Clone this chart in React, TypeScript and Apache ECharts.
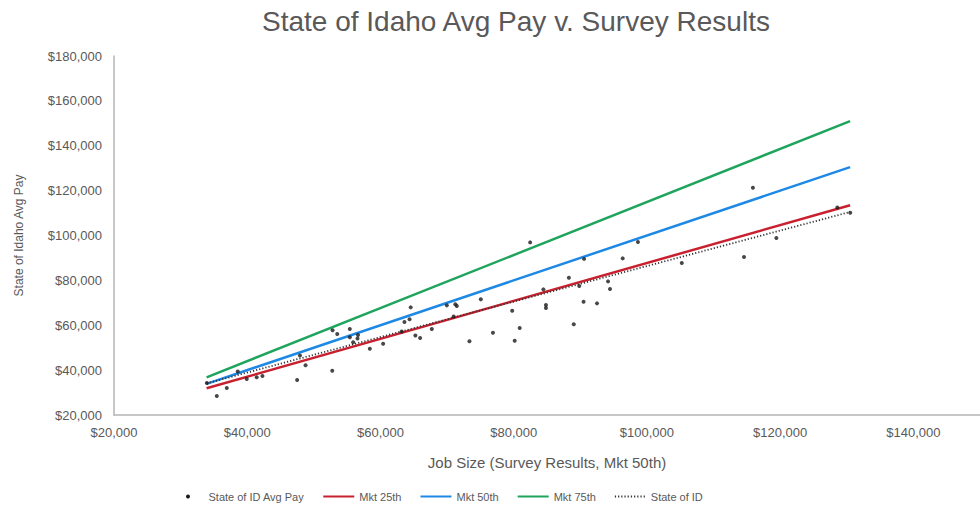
import React, { useEffect, useRef } from "react";
import * as echarts from "echarts";

const titleText = "State of Idaho Avg Pay v. Survey Results";
const xAxisName = "Job Size (Survey Results, Mkt 50th)";
const yAxisName = "State of Idaho Avg Pay";

// Scatter: [Job size (Mkt 50th), State of ID avg pay]
const avgPayPoints: [number, number][] = [
  [33930, 34250], [35430, 28460], [36930, 32030], [38580, 39380], [39930, 36040],
  [41420, 36790], [42280, 37370], [47490, 35590], [47910, 46500], [48760, 42140],
  [52760, 39730], [52810, 57730], [53510, 56080], [55400, 58310], [55400, 54610],
  [55910, 52380], [56550, 54080], [56630, 55630], [58400, 49490], [60400, 51710],
  [63190, 57190], [63600, 61430], [64370, 62630], [64540, 67970], [65240, 55410],
  [65950, 54300], [67710, 58310], [69960, 68860], [71240, 69350], [71460, 68550],
  [70980, 63870], [73360, 52870], [75060, 71540], [76880, 56660], [79770, 66460],
  [80150, 53100], [80900, 58750], [82470, 96930], [84460, 75990], [84840, 69000],
  [84840, 67660], [88280, 81160], [89020, 60400], [89840, 77460], [90490, 70470],
  [90560, 89580], [92510, 69750], [94160, 79550], [94460, 76120], [96360, 89800],
  [98650, 97060], [105240, 87700], [114570, 90380], [115910, 121250], [119430, 98840],
  [128580, 112520], [130520, 110110],
];

// Straight lines across the job-size range
const lineX = [33900, 130500];
const mkt25 = [31900, 113500];
const mkt50 = [33900, 130500];
const mkt75 = [36800, 151000];
const stateOfId = [34100, 110500];

const seriesNames = ["State of ID Avg Pay", "Mkt 25th", "Mkt 50th", "Mkt 75th", "State of ID"];

const pair = (ys: number[]) => lineX.map((x, i) => [x, ys[i]]);

const money = (v: number) => "$" + Math.round(v).toLocaleString("en-US");

const FONT = "'Liberation Sans', Arial, sans-serif";
const TEXT = "#595959";
const AXIS = "#b5b5b5";

export default function App() {
  const ref = useRef<HTMLDivElement>(null);
  useEffect(() => {
    if (!ref.current) return;
    const chart = echarts.init(ref.current, undefined, { renderer: "svg" });
    chart.setOption({
      animation: false,
      backgroundColor: "#ffffff",
      textStyle: { fontFamily: FONT },
      title: {
        text: titleText,
        left: 262,
        top: 7,
        padding: 0,
        textStyle: { fontFamily: FONT, fontSize: 28, fontWeight: "normal", color: TEXT },
      },
      grid: { left: 114, right: 0, top: 56, bottom: 93 },
      legend: {
        left: 181,
        top: 486,
        itemWidth: 31,
        itemHeight: 4,
        itemGap: 18,
        itemStyle: { opacity: 0 },
        textStyle: { fontFamily: FONT, fontSize: 11, color: TEXT },
        data: [
          { name: seriesNames[0], itemStyle: { opacity: 1 } },
          seriesNames[1],
          seriesNames[2],
          seriesNames[3],
          seriesNames[4],
        ],
      },
      xAxis: {
        type: "value",
        min: 20000,
        max: 150000,
        interval: 20000,
        name: xAxisName,
        nameLocation: "middle",
        nameGap: 40,
        nameTextStyle: { fontFamily: FONT, fontSize: 15, color: TEXT },
        axisLine: { show: true, lineStyle: { color: AXIS, width: 1.5 } },
        axisTick: { show: false },
        splitLine: { show: false },
        axisLabel: {
          formatter: money,
          fontFamily: FONT,
          fontSize: 13,
          color: TEXT,
          margin: 11,
          showMaxLabel: false,
        },
      },
      yAxis: {
        type: "value",
        min: 20000,
        max: 180000,
        interval: 20000,
        name: yAxisName,
        nameLocation: "middle",
        nameRotate: 90,
        nameGap: 89,
        nameTextStyle: { fontFamily: FONT, fontSize: 12, color: TEXT },
        axisLine: { show: true, lineStyle: { color: AXIS, width: 1.5 } },
        axisTick: { show: false },
        splitLine: { show: false },
        axisLabel: { formatter: money, fontFamily: FONT, fontSize: 13, color: TEXT, margin: 12 },
      },
      series: [
        {
          name: seriesNames[0],
          type: "scatter",
          data: avgPayPoints,
          symbol: "circle",
          symbolSize: 4,
          itemStyle: { color: "#1a1a1a" },
          z: 5,
        },
        {
          name: seriesNames[1],
          type: "line",
          data: pair(mkt25),
          symbol: "none",
          lineStyle: { color: "#c8202f", width: 2.5 },
          itemStyle: { color: "#c8202f" },
          z: 2,
        },
        {
          name: seriesNames[2],
          type: "line",
          data: pair(mkt50),
          symbol: "none",
          lineStyle: { color: "#1e88e5", width: 2.5 },
          itemStyle: { color: "#1e88e5" },
          z: 2,
        },
        {
          name: seriesNames[3],
          type: "line",
          data: pair(mkt75),
          symbol: "none",
          lineStyle: { color: "#1ea45c", width: 2.5 },
          itemStyle: { color: "#1ea45c" },
          z: 2,
        },
        {
          name: seriesNames[4],
          type: "line",
          data: pair(stateOfId),
          symbol: "none",
          lineStyle: { color: "#333333", width: 1.8, type: [1.2, 2] },
          itemStyle: { color: "#333333" },
          z: 3,
        },
      ],
    });
    return () => chart.dispose();
  }, []);
  return (
    <div
      ref={ref}
      style={{ position: "fixed", left: 0, top: 0, width: 980, height: 508, background: "#fff" }}
    />
  );
}
